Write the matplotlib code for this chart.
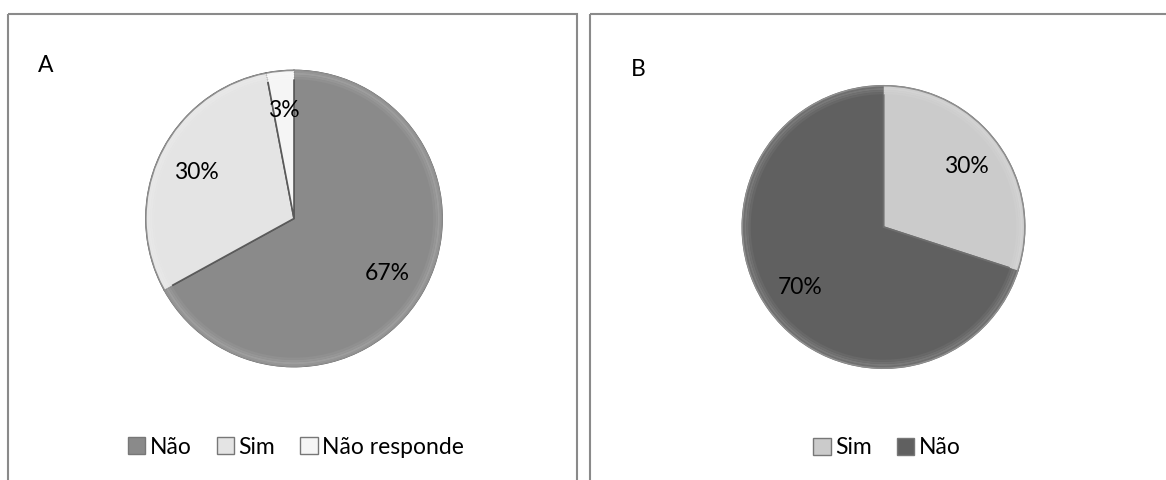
import matplotlib
matplotlib.use("Agg")
import matplotlib.pyplot as plt
from matplotlib.patches import Rectangle, Patch, Wedge
import numpy as np

plt.rcParams['font.family'] = ['Lato', 'DejaVu Sans']

# Panel A
labels_a = ["Não", "Sim", "Não responde"]
values_a = [67, 30, 3]
colors_a = ["#8a8a8a", "#e4e4e4", "#f5f5f5"]

# Panel B
labels_b = ["Sim", "Não"]
values_b = [30, 70]
colors_b = ["#cbcbcb", "#606060"]

FS = 16.5
W, H = 1166, 480
fig = plt.figure(figsize=(W / 100, H / 100), dpi=100)
fig.patch.set_facecolor("white")


def px_axes(cx, cy, r):
    """Square axes centred at pixel (cx, cy) from top-left, radius r px."""
    return fig.add_axes([(cx - r) / W, 1 - (cy + r) / H, 2 * r / W, 2 * r / H])


def lighten(c, f):
    rgb = np.array(matplotlib.colors.to_rgb(c))
    return tuple(rgb + (1 - rgb) * f)


def draw_pie(ax, values, colors, edge):
    wedges, texts, autotexts = ax.pie(
        values, colors=colors, startangle=90, counterclock=False,
        autopct="%.0f%%", pctdistance=0.73, radius=1.0,
        wedgeprops=dict(edgecolor=edge, linewidth=1.2),
        textprops=dict(fontsize=FS, color="black"))
    # soft bevelled rim
    for w, c in zip(wedges, colors):
        t1, t2 = w.theta1, w.theta2
        for k, (rad, f) in enumerate([(1.0, 0.10), (0.985, 0.16), (0.97, 0.10),
                                      (0.955, 0.05)]):
            ax.add_patch(Wedge((0, 0), rad, t1, t2, width=0.015,
                               facecolor=lighten(c, f), edgecolor="none",
                               zorder=2))
    ax.add_patch(plt.Circle((0, 0), 1.0, fill=False, edgecolor="#8f8f8f",
                            linewidth=1.0, zorder=3))
    for w in wedges:
        w.set_zorder(1)
    for t in autotexts:
        t.set_zorder(5)
    ax.set_xlim(-1.02, 1.02)
    ax.set_ylim(-1.02, 1.02)
    ax.set_aspect("equal")
    ax.axis("off")
    return wedges


# panel frames
frame = fig.add_axes([0, 0, 1, 1], zorder=-1)
frame.set_xlim(0, W)
frame.set_ylim(H, 0)
frame.axis("off")
frame.add_patch(Rectangle((7.5, 13.5), 569.5, 480, fill=False,
                          edgecolor="#8a8a8a", linewidth=1.5))
frame.add_patch(Rectangle((590, 13.5), 600, 480, fill=False,
                          edgecolor="#8a8a8a", linewidth=1.5))
frame.text(38, 65, "A", fontsize=FS, va="center", ha="left")
frame.text(631, 69, "B", fontsize=FS, va="center", ha="left")

ax_a = px_axes(294, 218.5, 151)
draw_pie(ax_a, values_a, colors_a, "#5a5a5a")

ax_b = px_axes(883.5, 227, 144)
draw_pie(ax_b, values_b, colors_b, "#6f6f6f")


def legend(labels, colors, cx, cy):
    handles = [Patch(facecolor=c, edgecolor="#777777", linewidth=1.0, label=l)
               for l, c in zip(labels, colors)]
    fig.legend(handles=handles, loc="center", ncol=len(labels),
               bbox_to_anchor=(cx / W, 1 - cy / H), frameon=False,
               fontsize=FS, handlelength=0.75, handleheight=0.75,
               handletextpad=0.2, columnspacing=1.1, borderpad=0)


legend(labels_a, colors_a, 296, 447)
legend(labels_b, colors_b, 887, 448)

fig.savefig("out.png", dpi=100)
